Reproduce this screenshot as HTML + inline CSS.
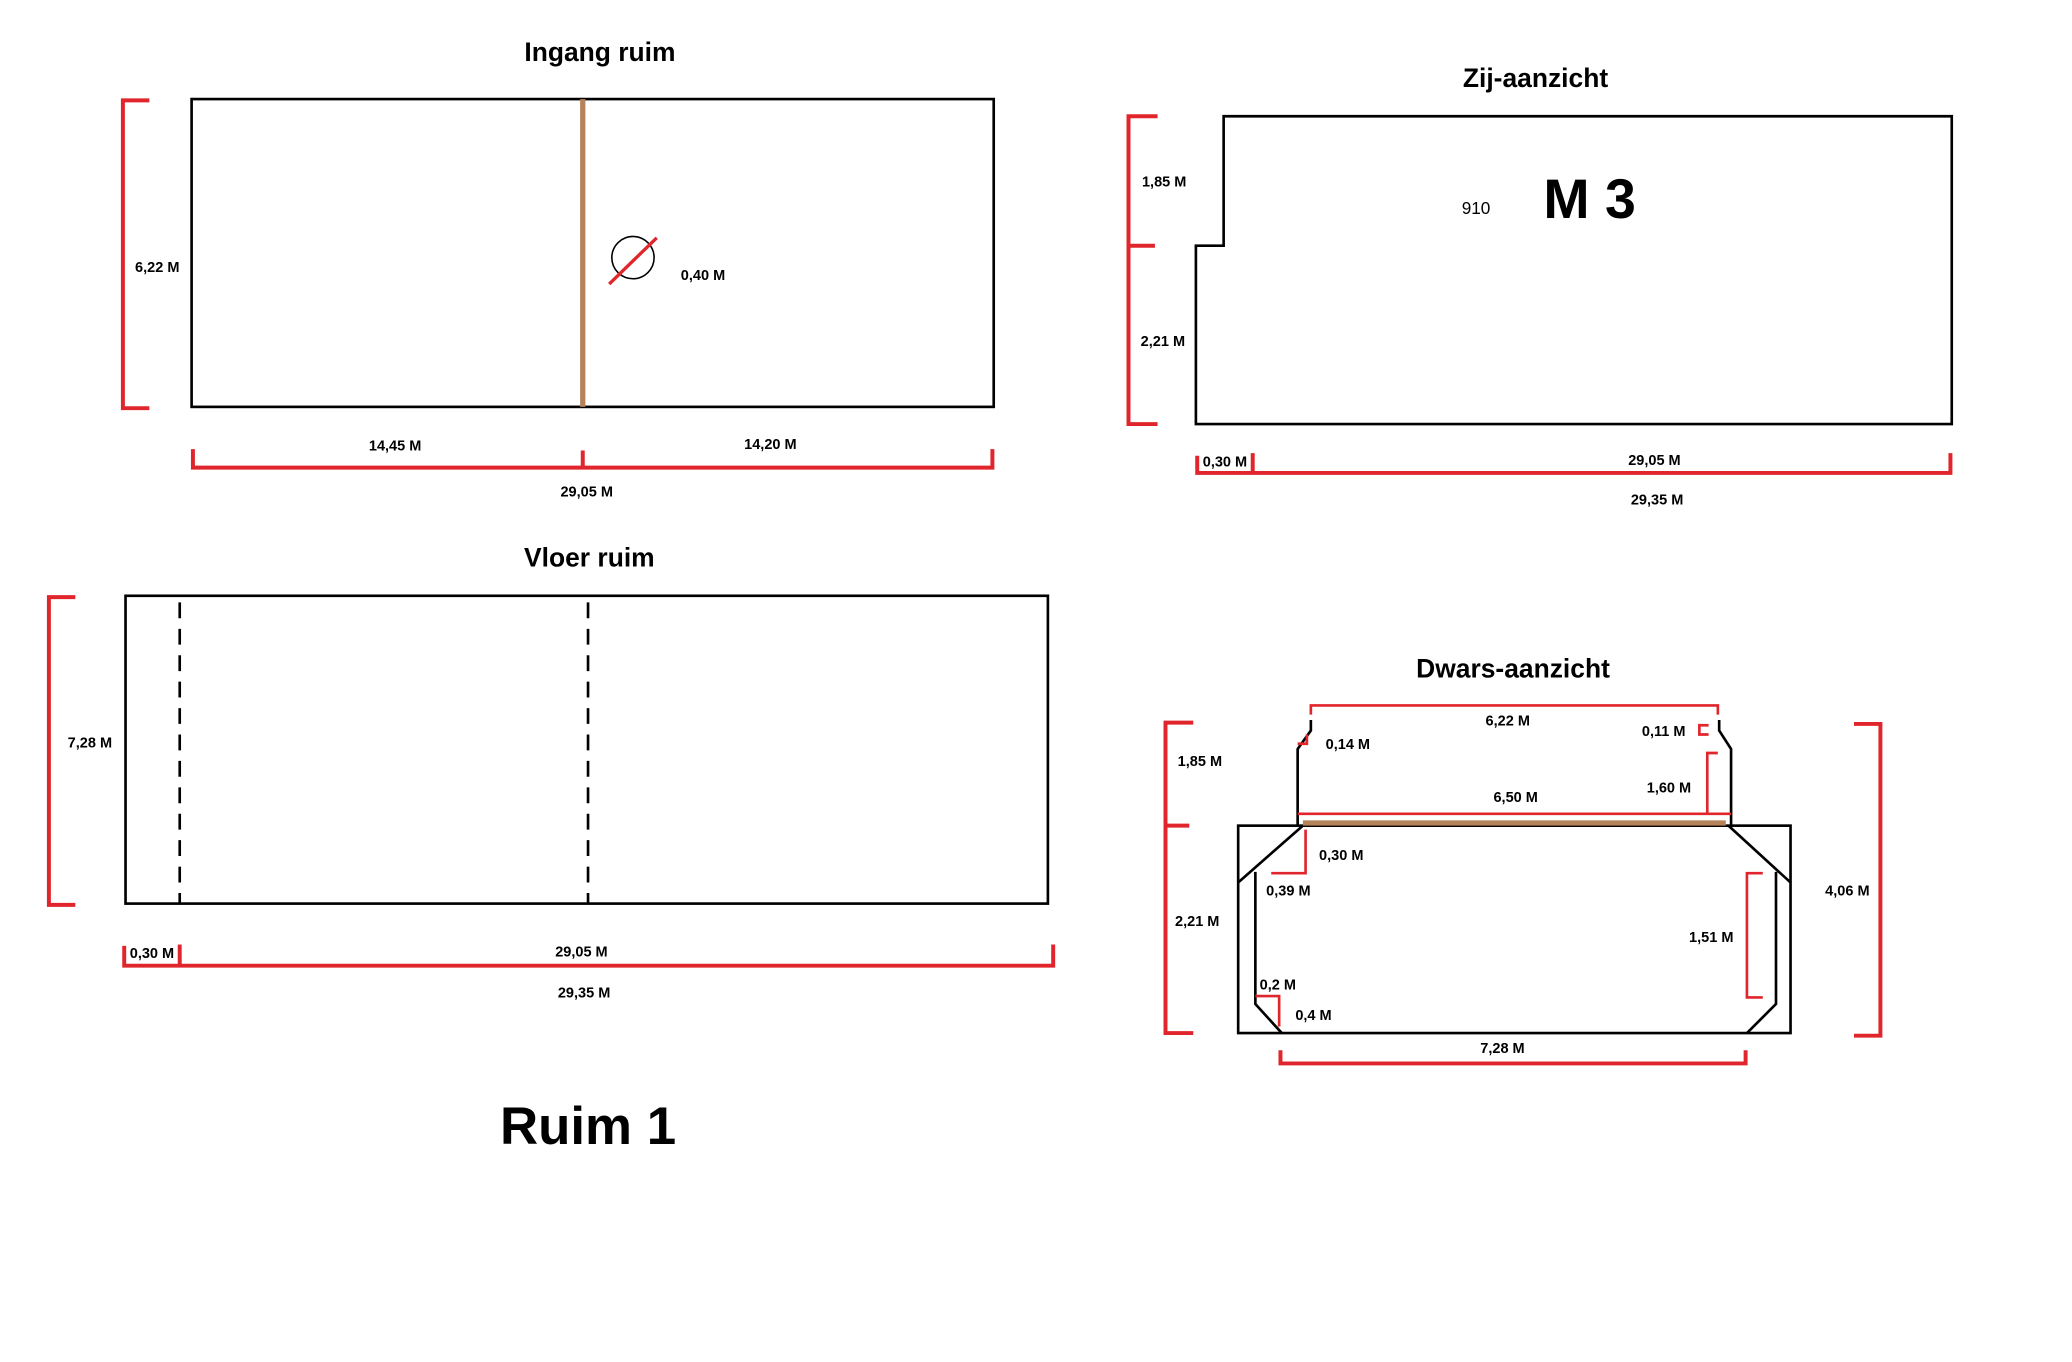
<!DOCTYPE html>
<html><head><meta charset="utf-8"><style>html,body{margin:0;padding:0;background:#fff}svg{display:block}</style></head><body>
<svg width="2072" height="1362" viewBox="0 0 1568 1031" preserveAspectRatio="none" xmlns="http://www.w3.org/2000/svg" font-family="Liberation Sans, sans-serif" font-weight="bold">
<g fill="none" stroke="#000" stroke-width="2">
<rect x="145" y="75" width="607" height="233"/>
<polygon points="926,88 1477,88 1477,321 905,321 905,186 926,186"/>
<rect x="95" y="451" width="698" height="233"/>
<rect x="937" y="625" width="418" height="157"/>
<polyline points="992,545 992,553 982,567 982,625"/>
<polyline points="1301,545 1301,553 1310,567 1310,625"/>
<polyline points="986,625 937,668"/>
<polyline points="1308,625 1355,668"/>
<polyline points="950,660 950,760 970,782"/>
<polyline points="1344,660 1344,760 1322,782"/>
<circle cx="479" cy="195" r="16" stroke-width="1.2"/>
</g>
<g stroke="#000" stroke-width="2" stroke-dasharray="12,8"><line x1="136" y1="456" x2="136" y2="684"/><line x1="445" y1="456" x2="445" y2="684"/></g>
<g stroke="#b5835a" stroke-width="4"><line x1="441" y1="75" x2="441" y2="308"/><line x1="986" y1="623" x2="1306" y2="623"/></g>
<g fill="none" stroke="#e0262c" stroke-width="3">
<line x1="461" y1="215" x2="497" y2="180" stroke-width="2.5"/>
<polyline points="113,76 93,76 93,309 113,309"/>
<polyline points="146,340 146,354 751,354 751,340"/><line x1="441" y1="341" x2="441" y2="354"/>
<polyline points="876,88 854,88 854,321 876,321"/><line x1="854" y1="186" x2="874" y2="186"/>
<polyline points="906,345 906,358 1476,358 1476,343"/><line x1="948" y1="343" x2="948" y2="358"/>
<polyline points="57,452 37,452 37,685 57,685"/>
<polyline points="94,716 94,731 797,731 797,715"/><line x1="136" y1="715" x2="136" y2="731"/>
<polyline points="903,547 882,547 882,782 903,782"/><line x1="882" y1="625" x2="900" y2="625"/>
<polyline points="1403,548 1423,548 1423,784 1403,784"/>
<polyline points="969,795 969,805 1321,805 1321,795"/>
<polyline points="992,541 992,534 1300,534 1300,541" stroke-width="2"/>
<line x1="982" y1="616" x2="1310" y2="616" stroke-width="2"/>
<polyline points="1300,570 1292,570 1292,616" stroke-width="2"/>
<polyline points="982,563 989,563 989,556" stroke-width="2"/>
<polyline points="1293,549 1286,549 1286,556 1293,556" stroke-width="2"/>
<polyline points="988,628 988,661 962,661" stroke-width="2"/>
<polyline points="1334,661 1322,661 1322,755 1334,755" stroke-width="2"/>
<polyline points="950,754 968,754 968,777" stroke-width="2"/>
</g>
<g fill="#000" font-size="20" text-anchor="middle">
<text x="454" y="46">Ingang ruim</text>
<text x="1162" y="66">Zij-aanzicht</text>
<text x="446" y="429">Vloer ruim</text>
<text x="1145" y="513">Dwars-aanzicht</text>
<text x="445" y="866" font-size="40">Ruim 1</text>
<text x="1203" y="165" font-size="42">M 3</text>
<text x="1117" y="162" font-size="13" font-weight="normal">910</text>
</g>
<g fill="#000" font-size="11" text-anchor="middle">
<text x="119" y="206">6,22 M</text><text x="532" y="212">0,40 M</text>
<text x="299" y="341">14,45 M</text><text x="583" y="340">14,20 M</text><text x="444" y="376">29,05 M</text>
<text x="881" y="141">1,85 M</text><text x="880" y="262">2,21 M</text>
<text x="927" y="353">0,30 M</text><text x="1252" y="352">29,05 M</text><text x="1254" y="382">29,35 M</text>
<text x="68" y="566">7,28 M</text>
<text x="115" y="725">0,30 M</text><text x="440" y="724">29,05 M</text><text x="442" y="755">29,35 M</text>
<text x="1141" y="549">6,22 M</text><text x="1259" y="557">0,11 M</text><text x="1020" y="567">0,14 M</text>
<text x="908" y="580">1,85 M</text><text x="1263" y="600">1,60 M</text><text x="1147" y="607">6,50 M</text>
<text x="1015" y="651">0,30 M</text><text x="975" y="678">0,39 M</text><text x="1398" y="678">4,06 M</text>
<text x="906" y="701">2,21 M</text><text x="1295" y="713">1,51 M</text>
<text x="967" y="749">0,2 M</text><text x="994" y="772">0,4 M</text><text x="1137" y="797">7,28 M</text>
</g>
</svg>
</body></html>
